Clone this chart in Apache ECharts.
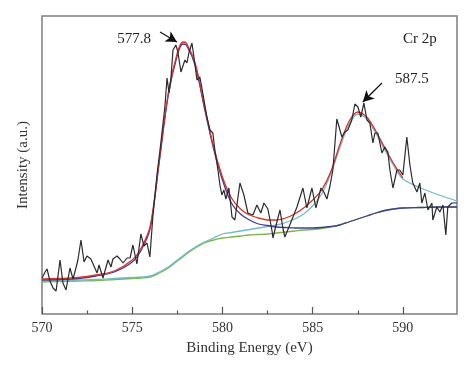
<!DOCTYPE html>
<html>
<head>
<meta charset="utf-8">
<script src="https://cdn.jsdelivr.net/npm/echarts@6/dist/echarts.min.js"></script>
<style>html,body{margin:0;padding:0;background:#fff}#c{width:474px;height:374px}</style>
</head>
<body>
<div id="c"></div>
<script>
// Tick labels of the binding-energy axis (eV)
const tickLabels = [570, 575, 580, 585, 590];
const minorTicks = [572.5, 577.5, 582.5, 587.5];

// Raw Cr 2p spectrum: [binding energy (eV), intensity (a.u.)]
const spectrum = [
[570.00,36],[570.17,42],[570.28,45],[570.44,33],[570.61,26],[570.78,23],[571.00,54],[571.16,31],[571.33,24],[571.55,46],
[571.72,35],[571.88,46],[571.99,54],[572.16,74],[572.33,52],[572.49,58],[572.71,55],[572.88,48],[573.05,41],[573.16,49],
[573.38,36],[573.66,54],[573.82,47],[573.93,55],[574.16,58],[574.32,55],[574.49,51],[574.71,56],[574.88,56],[575.04,69],
[575.26,50],[575.48,80],[575.65,68],[575.82,71],[575.98,57],[576.15,99],[576.37,139],[576.54,164],[576.81,207],[576.93,236],
[577.04,221],[577.15,237],[577.26,264],[577.42,269],[577.53,262],[577.70,242],[577.81,244],[577.92,254],[578.03,251],[578.14,261],
[578.31,271],[578.42,257],[578.59,234],[578.75,237],[578.92,220],[579.14,197],[579.31,184],[579.47,181],[579.58,164],[579.75,144],
[579.86,129],[579.97,119],[580.08,124],[580.19,115],[580.36,126],[580.53,97],[580.69,94],[580.97,131],[581.19,119],[581.41,101],
[581.69,99],[581.91,109],[582.13,101],[582.30,111],[582.52,105],[582.74,84],[582.80,76],[582.96,88],[583.19,104],[583.35,86],
[583.46,77],[583.57,77],[583.80,92],[584.13,107],[584.46,126],[584.68,106],[584.96,126],[585.18,106],[585.46,126],[585.62,122],
[585.79,115],[585.96,128],[586.12,144],[586.34,195],[586.45,196],[586.62,177],[586.79,182],[586.95,184],[587.17,194],[587.34,210],
[587.51,207],[587.67,197],[587.84,211],[588.01,194],[588.17,191],[588.34,171],[588.45,181],[588.61,181],[588.84,161],[589.00,167],
[589.17,162],[589.28,144],[589.45,126],[589.67,144],[589.83,144],[590.00,139],[590.22,177],[590.39,149],[590.55,131],[590.66,132],
[590.78,122],[590.94,131],[591.05,111],[591.22,121],[591.39,104],[591.61,111],[591.66,94],[591.88,107],[592.05,102],[592.22,109],
[592.38,79],[592.49,107],[592.71,111],[592.99,111]
];

// Energies at which the fitted curves are sampled
const fitEnergy = [570,571,572,573,574,575,575.5,576,576.5,577,577.5,577.8,578,578.5,579,579.5,580,580.5,581,581.5,
                   582,582.5,583,583.5,584,584.5,585,585.5,586,586.5,587,587.5,588,588.5,589,589.5,590,591,592,593];
// Shirley background
const background = [32,32.5,33,33.5,34.5,35.5,36,37,41,46,53,57,60,66,71,74,76,77,78,79,
                    79.5,80,81,82,83,84,84.5,85.5,87,89,92,95,98,101,103.5,105,106,106.5,107,107];
// Peak 1 (577.8 eV) + background
const peak1 = [34,34.5,35.5,38,42,52,64,86,152,219,259,270,269,248,206,166,134,111,100,94,
               90,88.5,87,86.5,86,86,86,86.5,87.5,89,92,95,98,101,103.5,105,106,106.5,107,107];
// Peak 2 (587.5 eV) + background
const peak2 = [33,33.5,34,34.5,35.5,36.5,37,38,42,47,54,58,61,67,72,76,80,81.5,83,84.5,
               86,87.5,89,91.5,95,100,108,120,140,166,189,200,195,181,164,148,135,126,119,113];
// Fitted envelope
const envelope = [35,35.5,36.5,39,43,54,66,88,154,221,261,272,271,250,208,168,137,116,105,99,
                  96,94,94,96,100,106,114,124,142,169,192,202,197,183,166,150,136,null,null,null];

const pair = arr => fitEnergy.map((e, i) => [e, arr[i]]);
const serif = 'Liberation Serif, Times New Roman, serif';

const chart = echarts.init(document.getElementById('c'), null, {renderer: 'canvas'});
chart.setOption({
  animation: false,
  backgroundColor: '#fff',
  grid: {left: 42, right: 17, top: 16, bottom: 60, show: true, borderColor: '#7f7f7f', borderWidth: 1.5},
  xAxis: [{
    type: 'value', min: 570, max: 593, position: 'bottom',
    axisLine: {show: false},
    axisTick: {show: true, inside: true, length: 7, customValues: tickLabels, lineStyle: {color: '#555', width: 1.2}},
    axisLabel: {show: true, customValues: tickLabels, margin: 7, fontFamily: serif, fontSize: 14, color: '#333'},
    splitLine: {show: false},
    name: 'Binding Energy (eV)', nameLocation: 'middle', nameGap: 27,
    nameTextStyle: {fontFamily: serif, fontSize: 15, color: '#333'}
  }, {
    type: 'value', min: 570, max: 593, position: 'bottom',
    axisLine: {show: false},
    axisTick: {show: true, inside: true, length: 3.5, customValues: minorTicks, lineStyle: {color: '#555', width: 1.2}},
    axisLabel: {show: false},
    splitLine: {show: false}
  }],
  yAxis: {
    type: 'value', min: 0, max: 298,
    axisLine: {show: false}, axisTick: {show: false}, axisLabel: {show: false}, splitLine: {show: false},
    name: 'Intensity (a.u.)', nameLocation: 'middle', nameGap: 11,
    nameTextStyle: {fontFamily: serif, fontSize: 15, color: '#333'}
  },
  series: [
    {type: 'line', name: 'Background', data: pair(background), smooth: 0.3, showSymbol: false,
     lineStyle: {color: '#7cb54a', width: 1.3}},
    {type: 'line', name: 'Peak 2', data: pair(peak2), smooth: 0.3, showSymbol: false,
     lineStyle: {color: '#70bcc6', width: 1.3}},
    {type: 'line', name: 'Peak 1', data: pair(peak1), smooth: 0.3, showSymbol: false,
     lineStyle: {color: '#403c96', width: 1.3}},
    {type: 'line', name: 'Envelope', data: pair(envelope), smooth: 0.3, showSymbol: false, connectNulls: false,
     lineStyle: {color: '#d8322b', width: 1.3}},
    {type: 'line', name: 'Spectrum', data: spectrum, showSymbol: false,
     lineStyle: {color: '#2b2b2b', width: 1.2},
     markPoint: {
       symbol: 'circle', symbolSize: 0, silent: true,
       label: {show: true, position: 'inside', formatter: p => p.name, fontFamily: serif, fontSize: 15, color: '#222'},
       data: [
         {name: '577.8', coord: [575.1, 275]},
         {name: '587.5', coord: [590.5, 235]},
         {name: 'Cr 2p', coord: [590.94, 275]}
       ]
     },
     markLine: {
       silent: true, symbol: ['none', 'arrow'], symbolSize: [9, 11],
       label: {show: false},
       lineStyle: {color: '#111', width: 1.2, type: 'solid'},
       data: [
         [{coord: [576.54, 282]}, {coord: [577.48, 272]}],
         [{coord: [588.84, 231]}, {coord: [587.78, 212]}]
       ]
     }}
  ]
});
</script>
</body>
</html>
